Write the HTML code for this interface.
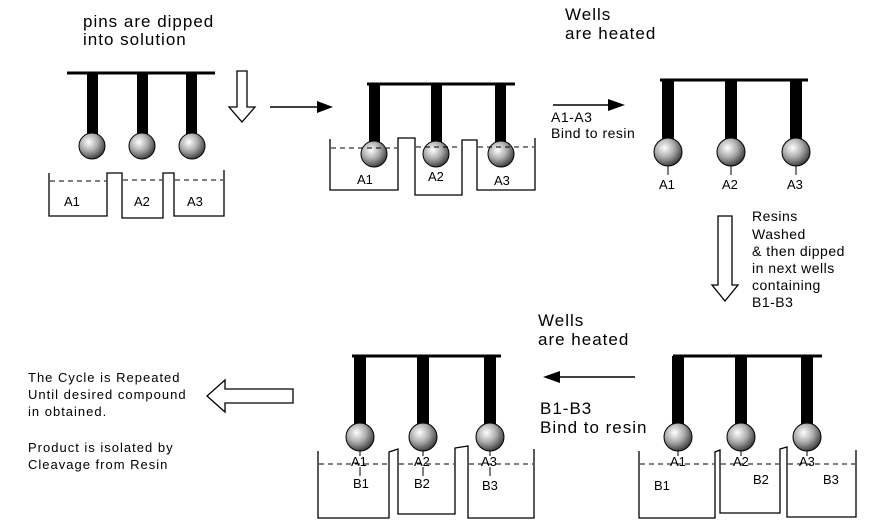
<!DOCTYPE html>
<html><head><meta charset="utf-8"><style>
html,body{margin:0;padding:0;background:#fff;}
svg{display:block;font-family:"Liberation Sans",Arial,sans-serif;}
</style></head><body>
<svg width="880" height="525" viewBox="0 0 880 525" xmlns="http://www.w3.org/2000/svg">
<defs>
<radialGradient id="b" cx="0.38" cy="0.35" r="0.7">
<stop offset="0" stop-color="#fff"/><stop offset="0.5" stop-color="#aaa"/><stop offset="1" stop-color="#333"/>
</radialGradient>
</defs>
<g fill="#000" font-size="17" letter-spacing="1">
<text x="83" y="27">pins are dipped</text>
<text x="83" y="45">into solution</text>
<text x="565" y="20">Wells</text>
<text x="565" y="39">are heated</text>
<text x="538" y="326">Wells</text>
<text x="538" y="345">are heated</text>
<text x="540" y="414">B1-B3</text>
<text x="540" y="433">Bind to resin</text>
</g>
<g font-size="14" letter-spacing="0.5">
<text x="551" y="122">A1-A3</text>
<text x="551" y="138">Bind to resin</text>
<text x="752" y="221">Resins</text>
<text x="752" y="239">Washed</text>
<text x="752" y="256">&amp; then dipped</text>
<text x="752" y="273">in next wells</text>
<text x="752" y="290">containing</text>
<text x="752" y="307">B1-B3</text>
</g>
<g font-size="13" letter-spacing="1">
<text x="28" y="382">The Cycle is Repeated</text>
<text x="28" y="399">Until desired compound</text>
<text x="28" y="416">in obtained.</text>
<text x="28" y="452">Product is isolated by</text>
<text x="28" y="469">Cleavage from Resin</text>
</g>
<g stroke="#000" fill="none" stroke-width="1.5">
<line x1="270" y1="107" x2="320" y2="107"/>
<line x1="553" y1="105" x2="612" y2="105"/>
<line x1="635" y1="377" x2="555" y2="377"/>
<path d="M237,71 H247 V107 H255 L242,122 L229,107 H237 Z" stroke-width="1.3"/>
<path d="M718,216 H732 V285 H738 L725,301 L712,285 H718 Z" stroke-width="1.3"/>
<path d="M293,389 V403 H225 V412 L207,396 L225,380 V389 Z" stroke-width="1.3"/>
</g>
<g fill="#000">
<polygon points="333,107 317,101 317,113"/>
<polygon points="625,105 608,99 608,111"/>
<polygon points="543,377 560,371 560,383"/>
</g>
<g>
<line x1="67" y1="73" x2="215" y2="73" stroke="#000" stroke-width="3"/>
<rect x="87" y="73" width="11" height="63" fill="#000"/>
<rect x="137" y="73" width="11" height="63" fill="#000"/>
<rect x="186" y="73" width="11" height="63" fill="#000"/>
<g fill="url(#b)" stroke="#000" stroke-width="1">
<circle cx="92" cy="146" r="13"/><circle cx="142" cy="146" r="13"/><circle cx="192" cy="146" r="13"/>
</g>
<path d="M49,173 V216 H107 V173 H122 V218 H163 V173 H174 V216 H224 V170" fill="none" stroke="#000" stroke-width="1.3"/>
<g stroke="#000" stroke-dasharray="5,4" stroke-width="1"><line x1="50" y1="181" x2="106" y2="181"/><line x1="123" y1="180" x2="162" y2="180"/><line x1="175" y1="180" x2="223" y2="180"/></g>
<g font-size="13"><text x="64" y="206">A1</text><text x="134" y="206">A2</text><text x="187" y="206">A3</text></g>
</g>
<g>
<line x1="367" y1="84" x2="515" y2="84" stroke="#000" stroke-width="3"/>
<rect x="369" y="84" width="11" height="62" fill="#000"/>
<rect x="431" y="84" width="11" height="62" fill="#000"/>
<rect x="495" y="84" width="11" height="62" fill="#000"/>
<g fill="url(#b)" stroke="#000" stroke-width="1">
<circle cx="374" cy="154" r="13"/><circle cx="436" cy="154" r="13"/><circle cx="501" cy="154" r="13"/>
</g>
<path d="M330,139 V190 H398 V138 H415 V195 H462 V140 H477 V190 H535 V138" fill="none" stroke="#000" stroke-width="1.3"/>
<g stroke="#000" stroke-dasharray="5,4" stroke-width="1"><line x1="331" y1="148" x2="397" y2="148"/><line x1="416" y1="147" x2="461" y2="147"/><line x1="478" y1="147" x2="534" y2="147"/></g>
<g font-size="13"><text x="357" y="184">A1</text><text x="428" y="181">A2</text><text x="494" y="185">A3</text></g>
</g>
<g>
<line x1="660" y1="80" x2="808" y2="80" stroke="#000" stroke-width="3"/>
<rect x="662" y="80" width="12" height="60" fill="#000"/>
<rect x="725" y="80" width="12" height="60" fill="#000"/>
<rect x="790" y="80" width="12" height="60" fill="#000"/>
<g stroke="#000" stroke-width="1"><line x1="668" y1="165" x2="668" y2="175"/><line x1="731" y1="165" x2="731" y2="175"/><line x1="796" y1="165" x2="796" y2="175"/></g>
<g fill="url(#b)" stroke="#000" stroke-width="1">
<circle cx="668" cy="152" r="14"/><circle cx="731" cy="152" r="14"/><circle cx="796" cy="152" r="14"/>
</g>
<g font-size="13"><text x="659" y="189">A1</text><text x="722" y="189">A2</text><text x="787" y="189">A3</text></g>
</g>
<g>
<line x1="352" y1="356" x2="501" y2="356" stroke="#000" stroke-width="3"/>
<rect x="354" y="356" width="12" height="70" fill="#000"/>
<rect x="417" y="356" width="12" height="70" fill="#000"/>
<rect x="484" y="356" width="12" height="70" fill="#000"/>
<g stroke="#000" stroke-width="1"><line x1="360" y1="450" x2="360" y2="456"/><line x1="423" y1="450" x2="423" y2="456"/><line x1="490" y1="450" x2="490" y2="456"/>
<line x1="360" y1="467" x2="360" y2="476"/><line x1="423" y1="467" x2="423" y2="476"/><line x1="490" y1="467" x2="490" y2="476"/></g>
<g fill="url(#b)" stroke="#000" stroke-width="1">
<circle cx="360" cy="437" r="14"/><circle cx="423" cy="437" r="14"/><circle cx="490" cy="437" r="14"/>
</g>
<path d="M318,451 V518 H389 V452 L398,449 V514 H455 V448 L468,446 V518 H534 V449" fill="none" stroke="#000" stroke-width="1.3"/>
<g stroke="#000" stroke-dasharray="5,4" stroke-width="1"><line x1="319" y1="464" x2="388" y2="464"/><line x1="399" y1="464" x2="454" y2="464"/><line x1="469" y1="464" x2="533" y2="464"/></g>
<g font-size="13"><text x="351" y="466">A1</text><text x="414" y="466">A2</text><text x="481" y="466">A3</text>
<text x="353" y="488">B1</text><text x="414" y="488">B2</text><text x="482" y="490">B3</text></g>
</g>
<g>
<line x1="673" y1="356" x2="822" y2="356" stroke="#000" stroke-width="3"/>
<rect x="672" y="356" width="12" height="70" fill="#000"/>
<rect x="735" y="356" width="12" height="70" fill="#000"/>
<rect x="801" y="356" width="12" height="70" fill="#000"/>
<g stroke="#000" stroke-width="1"><line x1="678" y1="450" x2="678" y2="456"/><line x1="741" y1="450" x2="741" y2="456"/><line x1="807" y1="450" x2="807" y2="456"/></g>
<g fill="url(#b)" stroke="#000" stroke-width="1">
<circle cx="678" cy="437" r="14"/><circle cx="741" cy="437" r="14"/><circle cx="807" cy="437" r="14"/>
</g>
<path d="M639,451 V518 H715 V452 L720,450 V513 H780 V449 L787,447 V517 H856 V450" fill="none" stroke="#000" stroke-width="1.3"/>
<g stroke="#000" stroke-dasharray="5,4" stroke-width="1"><line x1="640" y1="464" x2="714" y2="464"/><line x1="721" y1="464" x2="779" y2="464"/><line x1="788" y1="464" x2="855" y2="464"/></g>
<g font-size="13"><text x="670" y="466">A1</text><text x="733" y="466">A2</text><text x="799" y="466">A3</text>
<text x="654" y="490">B1</text><text x="753" y="484">B2</text><text x="823" y="484">B3</text></g>
</g>
</svg>
</body></html>
